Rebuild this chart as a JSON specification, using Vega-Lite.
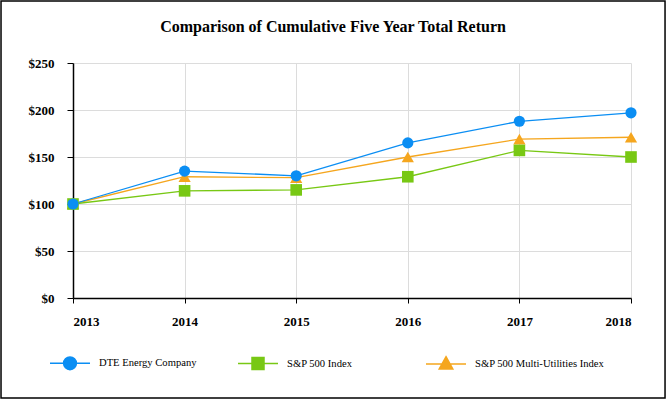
{
  "$schema": "https://vega.github.io/schema/vega-lite/v6.json",
  "autosize": "none",
  "width": 558,
  "height": 235,
  "padding": {"left": 73, "top": 63, "right": 35, "bottom": 102},
  "background": "white",
  "title": {
    "text": "Comparison of Cumulative Five Year Total Return",
    "font": "Liberation Serif",
    "fontSize": 16,
    "fontWeight": "bold",
    "color": "black",
    "anchor": "middle",
    "frame": "bounds",
    "baseline": "alphabetic",
    "offset": -48
  },
  "config": {
    "view": {"stroke": null},
    "axis": {
      "labelFont": "Liberation Serif",
      "labelFontSize": 13,
      "labelFontWeight": "bold",
      "labelColor": "black",
      "domainColor": "black",
      "domainWidth": 1.5,
      "tickColor": "black",
      "tickWidth": 1,
      "gridColor": "#dcdcdc",
      "gridWidth": 1,
      "title": null
    }
  },
  "datasets": {
    "returns": [
      {"series": "S&P 500 Multi-Utilities Index", "year": 2013, "value": 100},
      {"series": "S&P 500 Multi-Utilities Index", "year": 2014, "value": 129},
      {"series": "S&P 500 Multi-Utilities Index", "year": 2015, "value": 128},
      {"series": "S&P 500 Multi-Utilities Index", "year": 2016, "value": 150},
      {"series": "S&P 500 Multi-Utilities Index", "year": 2017, "value": 169},
      {"series": "S&P 500 Multi-Utilities Index", "year": 2018, "value": 171},
      {"series": "S&P 500 Index", "year": 2013, "value": 100},
      {"series": "S&P 500 Index", "year": 2014, "value": 114},
      {"series": "S&P 500 Index", "year": 2015, "value": 115},
      {"series": "S&P 500 Index", "year": 2016, "value": 129},
      {"series": "S&P 500 Index", "year": 2017, "value": 157},
      {"series": "S&P 500 Index", "year": 2018, "value": 150},
      {"series": "DTE Energy Company", "year": 2013, "value": 100},
      {"series": "DTE Energy Company", "year": 2014, "value": 135},
      {"series": "DTE Energy Company", "year": 2015, "value": 130},
      {"series": "DTE Energy Company", "year": 2016, "value": 165},
      {"series": "DTE Energy Company", "year": 2017, "value": 188},
      {"series": "DTE Energy Company", "year": 2018, "value": 197}
    ],
    "frame": [
      {"x": 2012.355, "x2": 2018.305, "y": 315.9, "y2": -106.4}
    ]
  },
  "layer": [
    {
      "data": {"name": "frame"},
      "mark": {"type": "rect", "fill": null, "stroke": "black", "strokeWidth": 1.5, "clip": false},
      "encoding": {
        "x": {"field": "x", "type": "quantitative", "scale": {"domain": [2013, 2018], "nice": false, "zero": false}},
        "x2": {"field": "x2"},
        "y": {"field": "y", "type": "quantitative", "scale": {"domain": [0, 250], "nice": false}},
        "y2": {"field": "y2"}
      }
    },
    {
      "data": {"name": "returns"},
      "mark": {"type": "line", "strokeWidth": 1.3},
      "encoding": {
        "x": {
          "field": "year", "type": "quantitative",
          "scale": {"domain": [2013, 2018], "nice": false, "zero": false},
          "axis": {"values": [2013, 2014, 2015, 2016, 2017, 2018], "format": "d", "tickSize": 5, "labelPadding": 12, "grid": true}
        },
        "y": {
          "field": "value", "type": "quantitative",
          "scale": {"domain": [0, 250], "nice": false},
          "axis": {"values": [0, 50, 100, 150, 200, 250], "labelExpr": "'$' + datum.value", "tickSize": 6, "labelPadding": 13, "grid": true}
        },
        "color": {
          "field": "series", "type": "nominal",
          "scale": {
            "domain": ["DTE Energy Company", "S&P 500 Index", "S&P 500 Multi-Utilities Index"],
            "range": ["#0b8ef3", "#78c814", "#f5a61e"]
          },
          "legend": {
            "title": null,
            "orient": "none",
            "direction": "horizontal",
            "legendX": -24,
            "legendY": 279,
            "padding": 0,
            "gridAlign": "all",
            "columnPadding": 6,
            "symbolSize": 1600,
            "symbolType": "circle",
            "labelOffset": 8,
            "labelFont": "Liberation Serif",
            "labelFontSize": 10.6,
            "labelColor": "black",
            "labelLimit": 300,
            "encode": {
              "symbols": {
                "update": {
                  "shape": {"signal": "datum.index === 0 ? 'M-1,0H1M0.32,0A0.32,0.32 0 1 1 -0.32,0A0.32,0.32 0 1 1 0.32,0Z' : datum.index === 1 ? 'M-1,0H1M-0.3,-0.3H0.3V0.3H-0.3Z' : 'M-1,0H1M0,-0.36L0.34,0.26L-0.34,0.26Z'"},
                  "fill": {"scale": "color", "field": "value"},
                  "stroke": {"scale": "color", "field": "value"},
                  "strokeWidth": {"value": 1.5},
                  "opacity": {"value": 1},
                  "fillOpacity": {"value": 1}
                }
              }
            }
          }
        }
      }
    },
    {
      "data": {"name": "returns"},
      "transform": [{"filter": "datum.series === 'S&P 500 Multi-Utilities Index'"}],
      "mark": {"type": "point", "shape": "triangle-up", "filled": true, "opacity": 1, "size": 150},
      "encoding": {
        "x": {"field": "year", "type": "quantitative", "scale": {"domain": [2013, 2018], "nice": false, "zero": false}},
        "y": {"field": "value", "type": "quantitative", "scale": {"domain": [0, 250], "nice": false}},
        "color": {"field": "series", "type": "nominal"}
      }
    },
    {
      "data": {"name": "returns"},
      "transform": [{"filter": "datum.series === 'S&P 500 Index'"}],
      "mark": {"type": "point", "shape": "square", "filled": true, "opacity": 1, "size": 135},
      "encoding": {
        "x": {"field": "year", "type": "quantitative", "scale": {"domain": [2013, 2018], "nice": false, "zero": false}},
        "y": {"field": "value", "type": "quantitative", "scale": {"domain": [0, 250], "nice": false}},
        "color": {"field": "series", "type": "nominal"}
      }
    },
    {
      "data": {"name": "returns"},
      "transform": [{"filter": "datum.series === 'DTE Energy Company'"}],
      "mark": {"type": "point", "shape": "circle", "filled": true, "opacity": 1, "size": 125},
      "encoding": {
        "x": {"field": "year", "type": "quantitative", "scale": {"domain": [2013, 2018], "nice": false, "zero": false}},
        "y": {"field": "value", "type": "quantitative", "scale": {"domain": [0, 250], "nice": false}},
        "color": {"field": "series", "type": "nominal"}
      }
    }
  ]
}
